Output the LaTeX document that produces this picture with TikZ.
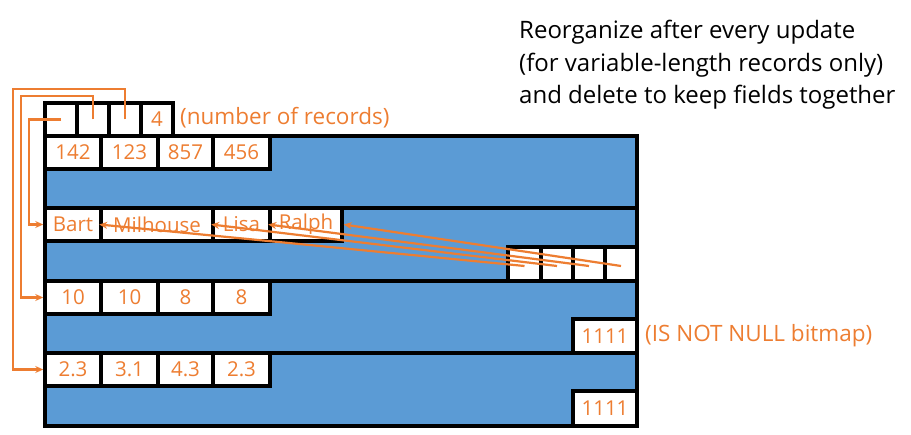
\documentclass[tikz,border=0pt]{standalone}
\usepackage{fontspec}
\setmainfont{Open Sans}
\usetikzlibrary{arrows.meta}
\definecolor{oorange}{HTML}{ED7D31}
\definecolor{oblue}{HTML}{5B9BD5}
\tikzset{
  rec/.style={draw=black, line width=3.5pt, fill=oblue},
  cell/.style={draw=black, line width=3.5pt, fill=white, inner sep=0pt, text=oorange, font=\fontsize{20.5}{24}\selectfont},
  arr/.style={draw=oorange, line width=2.2pt, -{Stealth[length=8pt,width=7pt]}},
  note/.style={text=oorange, font=\fontsize{22.5}{26}\selectfont, inner sep=0pt},
}
\newcommand{\cellbox}[6]{% name, x1, y1, x2, y2, text
  \node[cell, minimum width={(#4-#2)*1pt}, minimum height={(#5-#3)*1pt}] (#1) at ({(#2+#4)/2},{(#3+#5)/2}) {#6};}
\begin{document}
\begin{tikzpicture}[x=1pt,y=-1pt]
\useasboundingbox (0,0) rectangle (911,435);
% records
\draw[rec] (45,136) rectangle (637,208);
\draw[rec] (45,208) rectangle (637,281);
\draw[rec] (45,281) rectangle (637,353);
\draw[rec] (45,353) rectangle (637,426);
% header
\cellbox{h1}{45}{103}{77}{136}{}
\cellbox{h2}{77}{103}{109}{136}{}
\cellbox{h3}{109}{103}{141}{136}{}
\cellbox{h4}{141}{103}{173}{136}{4}
\node[note, anchor=west] (nrec) at (180,118) {(number of records)};
% record 1
\cellbox{f11}{45}{136}{101}{169}{142}
\cellbox{f12}{101}{136}{158}{169}{123}
\cellbox{f13}{158}{136}{213}{169}{857}
\cellbox{f14}{213}{136}{270}{169}{456}
% record 2
\cellbox{f21}{45}{208}{101}{241}{Bart}
\cellbox{f22}{101}{208}{213}{241}{Milhouse}
\cellbox{f23}{213}{208}{270}{241}{Lisa}
\cellbox{f24}{270}{208}{342}{241}{Ralph}
\cellbox{b1}{508}{247}{541}{281}{}
\cellbox{b2}{541}{247}{573}{281}{}
\cellbox{b3}{573}{247}{605}{281}{}
\cellbox{b4}{605}{247}{637}{281}{}
% record 3
\cellbox{f31}{45}{281}{101}{314}{10}
\cellbox{f32}{101}{281}{158}{314}{10}
\cellbox{f33}{158}{281}{213}{314}{8}
\cellbox{f34}{213}{281}{270}{314}{8}
\cellbox{m3}{573}{319}{637}{353}{1111}
\node[note, anchor=west] (bm) at (645,336) {(IS NOT NULL bitmap)};
% record 4
\cellbox{f41}{45}{353}{101}{386}{2.3}
\cellbox{f42}{101}{353}{158}{386}{3.1}
\cellbox{f43}{158}{353}{213}{386}{4.3}
\cellbox{f44}{213}{353}{270}{386}{2.3}
\cellbox{m4}{573}{391}{637}{426}{1111}
% offset arrows
\draw[arr] ([yshift=-2pt]b1.center) -- (f22.west);
\draw[arr] ([yshift=-2pt]b2.center) -- (f23.west);
\draw[arr] ([yshift=-2pt]b3.center) -- (f24.west);
\draw[arr] ([yshift=-2pt]b4.center) -- (f24.east);
% header pointers
\draw[arr] (h1.center) -| (29,224.5) -- (f21.west);
\draw[arr] (h2.center) |- (21,96) |- (f31.west);
\draw[arr] (h3.center) |- (13,89) |- (f41.west);
% note
\node[anchor=north west, align=left, inner sep=0pt, font=\fontsize{24}{32.5}\selectfont] (txt) at (519,20)
  {Reorganize after every update\\(for variable-length records only)\\and delete to keep fields together};
\end{tikzpicture}
\end{document}
